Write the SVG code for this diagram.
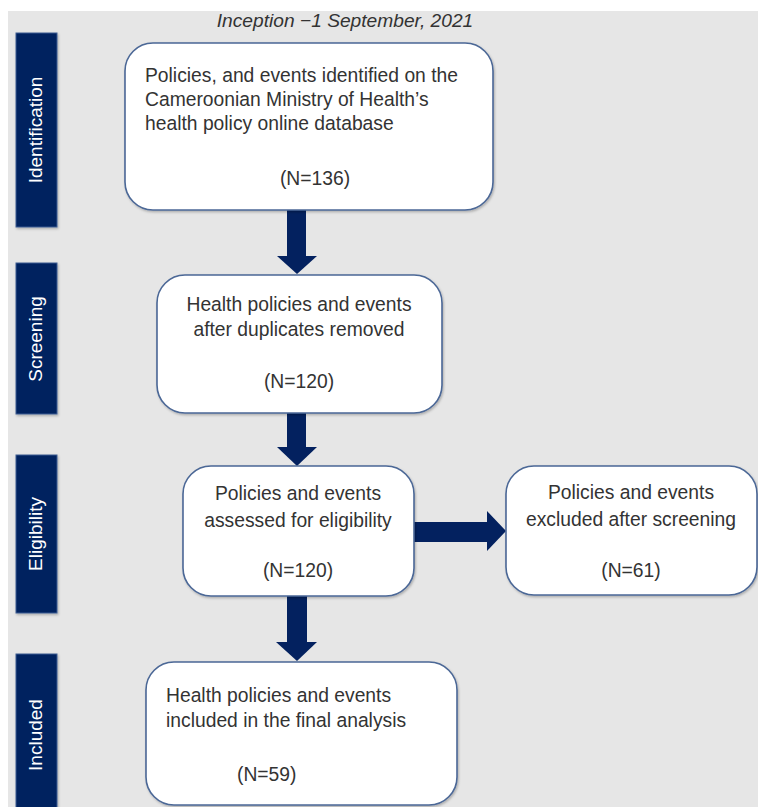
<svg xmlns="http://www.w3.org/2000/svg" width="758" height="807" viewBox="0 0 758 807">
<defs>
<style>
.t{font-family:"Liberation Sans",Arial,sans-serif;font-size:19.3px;fill:#333333}
.c{text-anchor:middle}
.lbl{font-family:"Liberation Sans",Arial,sans-serif;font-size:19px;fill:#ffffff;text-anchor:middle}
.bar{fill:#03215f;stroke:#3d5c92;stroke-width:1}
.box{fill:#ffffff;stroke:#4b6796;stroke-width:1.6}
.arr{fill:#03215f}
</style>
<filter id="sh" x="-10%" y="-10%" width="130%" height="130%">
<feDropShadow dx="1" dy="1.5" stdDeviation="1.2" flood-color="#000" flood-opacity="0.25"/>
</filter>
</defs>
<rect x="0" y="0" width="758" height="807" fill="#ffffff"/>
<rect x="8" y="11" width="750" height="796" fill="#e6e6e6"/>
<text x="345" y="27" class="t c" style="font-style:italic;font-size:19.2px">Inception −1 September, 2021</text>

<g id="stage-identification">
<rect x="16" y="33" width="41" height="194" class="bar" filter="url(#sh)"/>
<text class="lbl" transform="translate(35,130) rotate(-90)" y="7">Identification</text>
</g>
<g id="stage-screening">
<rect x="16" y="263" width="41" height="151" class="bar" filter="url(#sh)"/>
<text class="lbl" transform="translate(35,339) rotate(-90)" y="7">Screening</text>
</g>
<g id="stage-eligibility">
<rect x="16" y="455" width="41" height="158" class="bar" filter="url(#sh)"/>
<text class="lbl" transform="translate(35,534) rotate(-90)" y="7">Eligibility</text>
</g>
<g id="stage-included">
<rect x="16" y="654" width="41" height="165" class="bar" filter="url(#sh)"/>
<text class="lbl" transform="translate(35,735) rotate(-90)" y="7">Included</text>
</g>

<g id="connectors">
<rect x="287" y="209" width="19" height="48" class="arr"/>
<polygon points="277,256 317,256 297,274" class="arr"/>
<rect x="287" y="412" width="19" height="36" class="arr"/>
<polygon points="277,447 317,447 297,466" class="arr"/>
<rect x="287" y="595" width="20" height="48" class="arr"/>
<polygon points="276,642 317,642 297,661" class="arr"/>
<rect x="413" y="522" width="75" height="20" class="arr"/>
<polygon points="487,511 487,551 506,531" class="arr"/>
</g>

<g id="node-identified">
<rect x="125" y="43" width="368" height="167" rx="28" class="box" filter="url(#sh)"/>
<text class="t" x="145" y="82">Policies, and events identified on the</text>
<text class="t" x="145" y="106">Cameroonian Ministry of Health’s</text>
<text class="t" x="145" y="130">health policy online database</text>
<text class="t c" x="315" y="185">(N=136)</text>
</g>
<g id="node-screened">
<rect x="157" y="275" width="285" height="138" rx="28" class="box" filter="url(#sh)"/>
<text class="t c" x="299" y="311">Health policies and events</text>
<text class="t c" x="299" y="336">after duplicates removed</text>
<text class="t c" x="299" y="388">(N=120)</text>
</g>
<g id="node-eligibility">
<rect x="183" y="466" width="231" height="130" rx="28" class="box" filter="url(#sh)"/>
<text class="t c" x="298" y="500">Policies and events</text>
<text class="t c" x="298" y="527">assessed for eligibility</text>
<text class="t c" x="298" y="577">(N=120)</text>
</g>
<g id="node-excluded">
<rect x="506" y="466" width="251" height="129" rx="28" class="box" filter="url(#sh)"/>
<text class="t c" x="631" y="499">Policies and events</text>
<text class="t c" x="631" y="526">excluded after screening</text>
<text class="t c" x="631" y="577">(N=61)</text>
</g>
<g id="node-included">
<rect x="146" y="662" width="311" height="143" rx="28" class="box" filter="url(#sh)"/>
<text class="t" x="166" y="702">Health policies and events</text>
<text class="t" x="166" y="727">included in the final analysis</text>
<text class="t" x="237" y="781">(N=59)</text>
</g>
</svg>
